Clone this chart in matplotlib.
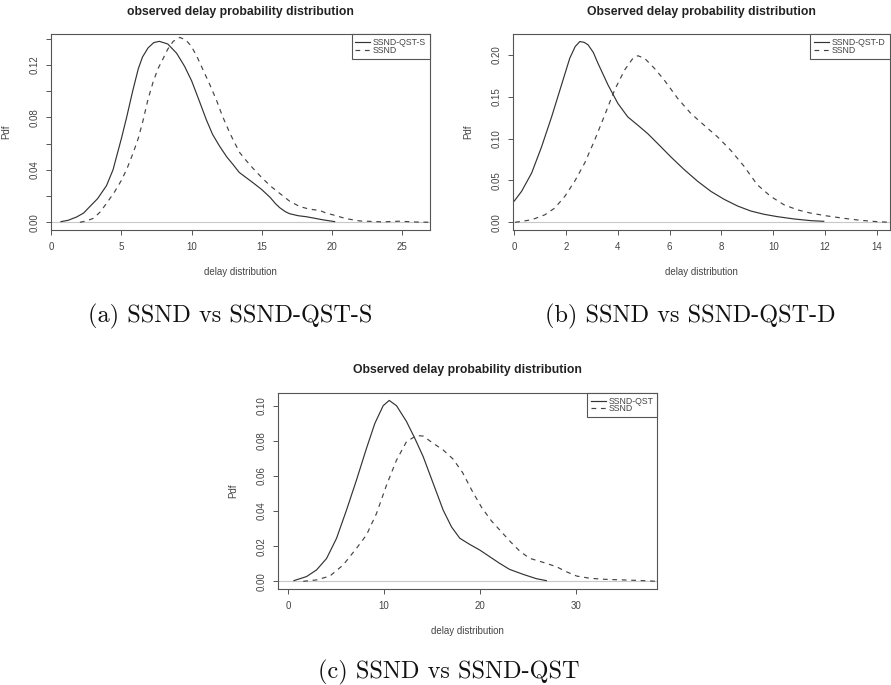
import matplotlib

matplotlib.use("Agg")
import matplotlib.pyplot as plt

plt.rcParams["font.family"] = ["Liberation Sans", "DejaVu Sans"]

W, H = 891, 685

# ---------- data ----------
# (a) SSND vs SSND-QST-S
a_qst_x = [0.69, 1.2, 1.8, 2.3, 2.75, 3.3, 3.94, 4.4, 5.0, 5.37, 5.8, 6.2, 6.5, 6.9, 7.3, 7.7,
           8.3, 8.93, 9.5, 10.0, 10.5, 11.06, 11.5, 12.0, 12.5, 12.96, 13.4, 13.9, 14.4,
           15.0, 15.6, 16.0, 16.3, 16.7, 17.0, 17.6, 18.2, 18.8, 19.4, 20.2]
a_qst_y = [0.0005, 0.0015, 0.004, 0.007, 0.012, 0.018, 0.028, 0.040, 0.064, 0.080, 0.100,
           0.117, 0.126, 0.133, 0.137, 0.138, 0.136, 0.129, 0.119, 0.108, 0.094, 0.078,
           0.067, 0.058, 0.050, 0.044, 0.038, 0.034, 0.030, 0.025, 0.019, 0.014, 0.011,
           0.008, 0.0065, 0.005, 0.0042, 0.003, 0.0018, 0.0005]
a_ssnd_x = [2.04, 2.5, 3.0, 3.5, 3.94, 4.5, 5.0, 5.4, 5.84, 6.2, 6.55, 6.9, 7.26, 7.6, 7.98,
            8.3, 8.69, 9.16, 9.6, 10.0, 10.4, 10.83, 11.3, 11.78, 12.2, 12.73, 13.1, 13.44,
            13.9, 14.39, 15.1, 15.7, 16.29, 17.0, 17.71, 18.4, 19.14, 19.6, 20.1, 21.0,
            22.0, 23.6, 24.8, 26.0, 27.0]
a_ssnd_y = [0.0, 0.001, 0.003, 0.008, 0.0145, 0.023, 0.032, 0.041, 0.053, 0.064, 0.078,
            0.094, 0.107, 0.117, 0.125, 0.132, 0.138, 0.141, 0.139, 0.134, 0.126, 0.116,
            0.105, 0.093, 0.081, 0.068, 0.060, 0.053, 0.047, 0.041, 0.033, 0.027, 0.022,
            0.016, 0.012, 0.010, 0.009, 0.007, 0.0056, 0.0028, 0.001, 0.0003, 0.0008,
            0.0002, 0.0]

# (b) SSND vs SSND-QST-D
b_qst_x = [0.0, 0.28, 0.67, 1.05, 1.44, 1.82, 2.14, 2.35, 2.53, 2.7, 2.85, 3.05, 3.23,
           3.62, 4.0, 4.38, 4.77, 5.15, 5.54, 6.05, 6.56, 7.08, 7.59, 8.1, 8.62, 9.13,
           9.64, 10.15, 10.8, 11.44, 11.95]
b_qst_y = [0.0255, 0.037, 0.059, 0.090, 0.126, 0.164, 0.196, 0.210, 0.216, 0.215, 0.212,
           0.203, 0.190, 0.164, 0.142, 0.126, 0.116, 0.106, 0.094, 0.078, 0.063, 0.049,
           0.037, 0.0275, 0.0195, 0.0135, 0.0096, 0.0068, 0.004, 0.002, 0.0012]
b_ssnd_x = [0.03, 0.67, 1.18, 1.56, 1.95, 2.33, 2.72, 3.1, 3.49, 3.87, 4.26, 4.58, 4.77,
            5.03, 5.41, 5.79, 6.31, 6.82, 7.33, 7.85, 8.36, 8.87, 9.38, 9.9, 10.41, 10.92,
            11.44, 12.08, 12.72, 13.36, 14.0, 14.5]
b_ssnd_y = [0.0, 0.003, 0.009, 0.017, 0.031, 0.049, 0.071, 0.098, 0.128, 0.158, 0.182,
            0.196, 0.199, 0.196, 0.184, 0.170, 0.148, 0.130, 0.116, 0.102, 0.086, 0.067,
            0.045, 0.031, 0.021, 0.015, 0.011, 0.0076, 0.0048, 0.0024, 0.0008, 0.0]

# (c) SSND vs SSND-QST
c_qst_x = [0.63, 1.94, 2.99, 4.03, 5.07, 6.11, 7.15, 8.19, 9.06, 9.93, 10.56, 11.32, 12.36,
           13.23, 14.1, 15.14, 16.18, 17.05, 17.92, 18.96, 20.0, 21.04, 22.08, 23.1, 24.5,
           25.9, 26.94]
c_qst_y = [0.0004, 0.0027, 0.0065, 0.013, 0.0245, 0.0406, 0.0577, 0.0757, 0.0899, 0.100,
           0.103, 0.100, 0.091, 0.0814, 0.071, 0.0558, 0.0406, 0.031, 0.0245, 0.021,
           0.0178, 0.014, 0.0102, 0.0068, 0.004, 0.0015, 0.0004]
c_ssnd_x = [1.6, 2.99, 4.375, 5.76, 7.15, 8.19, 9.24, 10.28, 11.32, 12.36, 13.4, 14.1, 15.14,
            16.18, 17.2, 18.2, 19.2, 20.2, 21.2, 22.2, 23.2, 24.2, 25.2, 26.6, 28.0, 29.0,
            30.1, 31.5, 33.2, 34.9, 37.0, 38.5]
c_ssnd_y = [0.0, 0.0008, 0.003, 0.0093, 0.0188, 0.0264, 0.0387, 0.0548, 0.069, 0.0795,
            0.083, 0.0827, 0.0786, 0.0748, 0.0697, 0.062, 0.0515, 0.0420, 0.0345, 0.0285,
            0.0225, 0.0170, 0.0131, 0.0108, 0.0083, 0.0055, 0.003, 0.0017, 0.0011, 0.0008,
            0.0004, 0.0]

panels = [
    # box in px (left, top, right, bottom), title, legend label, data, limits, ticks
    dict(box=(51.3, 34, 430, 230), title="observed delay probability distribution",
         label="SSND-QST-S", qst=(a_qst_x, a_qst_y), ssnd=(a_ssnd_x, a_ssnd_y),
         xlim=(0, 27), ylim=(-0.0059, 0.1436), xticks=[0, 5, 10, 15, 20, 25],
         yticks=[0, 0.02, 0.04, 0.06, 0.08, 0.10, 0.12, 0.14],
         ylabels=["0.00", "", "0.04", "", "0.08", "", "0.12", ""],
         caption="(a) SSND vs SSND-QST-S", cap_xy=(230, 322)),
    dict(box=(513.3, 34, 889.5, 230), title="Observed delay probability distribution",
         label="SSND-QST-D", qst=(b_qst_x, b_qst_y), ssnd=(b_ssnd_x, b_ssnd_y),
         xlim=(-0.04, 14.49), ylim=(-0.0092, 0.225), xticks=list(range(0, 15, 2)),
         yticks=[0, 0.05, 0.10, 0.15, 0.20],
         ylabels=["0.00", "0.05", "0.10", "0.15", "0.20"],
         caption="(b) SSND vs SSND-QST-D", cap_xy=(690, 322)),
    dict(box=(278.3, 392.7, 657.3, 588.7), title="Observed delay probability distribution",
         label="SSND-QST", qst=(c_qst_x, c_qst_y), ssnd=(c_ssnd_x, c_ssnd_y),
         xlim=(-1.0, 38.5), ylim=(-0.0042, 0.1074), xticks=[0, 10, 20, 30],
         yticks=[0, 0.02, 0.04, 0.06, 0.08, 0.10],
         ylabels=["0.00", "0.02", "0.04", "0.06", "0.08", "0.10"],
         caption="(c) SSND vs SSND-QST", cap_xy=(449, 678)),
]

fig = plt.figure(figsize=(W / 100, H / 100), dpi=100)
EDGE = "#555555"

for p in panels:
    l, t, r, b = p["box"]
    ax = fig.add_axes([l / W, 1 - b / H, (r - l) / W, (b - t) / H])
    ax.axhline(0, color="#c8c8c8", lw=0.8, zorder=1)
    ax.plot(*p["qst"], color="#333333", lw=0.85, label=p["label"], zorder=3)
    ax.plot(*p["ssnd"], color="#444444", lw=0.85, dashes=(4, 4), label="SSND", zorder=3)
    ax.set_xlim(*p["xlim"])
    ax.set_ylim(*p["ylim"])
    ax.set_xticks(p["xticks"])
    ax.set_yticks(p["yticks"])
    ax.set_yticklabels(p["ylabels"], rotation=90, va="center")
    for s in ax.spines.values():
        s.set_color(EDGE)
        s.set_linewidth(0.8)
    ax.tick_params(direction="out", length=3.5, width=0.7, color=EDGE,
                   labelsize=7, labelcolor="#444444")
    ax.tick_params(axis="x", pad=5)
    ax.tick_params(axis="y", pad=5)
    ax.set_xlabel("delay distribution", fontsize=7, color="#444444", labelpad=11)
    ax.set_ylabel("Pdf", fontsize=7, color="#444444", labelpad=13)
    ax.set_title(p["title"], fontsize=8.8, fontweight="bold", color="#222222", pad=14)
    leg = ax.legend(loc="upper right", bbox_to_anchor=(1, 1), borderaxespad=0,
                    fontsize=6.3, fancybox=False, edgecolor=EDGE, framealpha=1,
                    handlelength=1.7, handletextpad=0.3, labelspacing=-0.15,
                    borderpad=0.45)
    leg.get_frame().set_linewidth(0.8)
    for txt in leg.get_texts():
        txt.set_color("#444444")
    cx, cy = p["cap_xy"]
    fig.text(cx / W, 1 - cy / H, p["caption"], ha="center", va="baseline",
             fontsize=17.5, family=["cmr10", "DejaVu Serif"], color="#111111")

fig.savefig("out.png", dpi=100)
